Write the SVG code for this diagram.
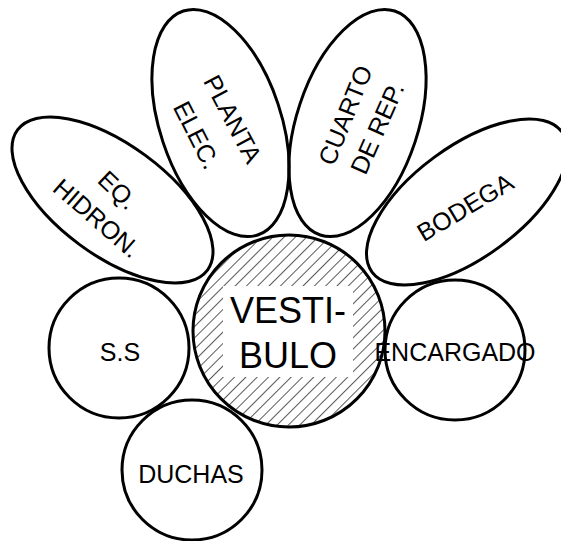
<svg xmlns="http://www.w3.org/2000/svg" width="561" height="541" viewBox="0 0 561 541">
  <defs>
    <pattern id="hatch" patternUnits="userSpaceOnUse" width="8" height="8" patternTransform="rotate(45)">
      <line x1="0" y1="0" x2="0" y2="8" stroke="#000" stroke-width="1.3"/>
    </pattern>
    <clipPath id="vclip"><circle cx="289" cy="331" r="96"/></clipPath>
  </defs>
  <style>
    .shape { fill: none; stroke: #000; stroke-width: 3; }
    .lbl { font-family: "Liberation Sans", Arial, sans-serif; font-size: 25px; fill: #000; text-anchor: middle; }
    .big { font-size: 36px; }
  </style>
  <rect width="561" height="541" fill="#fff"/>
  <g id="connectors"></g>
  <g id="vestibulo">
    <circle cx="289" cy="331" r="96" fill="url(#hatch)"/>
    <rect x="223" y="286" width="130" height="91" fill="#fff" clip-path="url(#vclip)"/>
    <circle cx="289" cy="331" r="96" class="shape"/>
    <text class="lbl big" x="288" y="323">VESTI-</text>
    <text class="lbl big" x="288" y="368">BULO</text>
  </g>
  <g id="eq-hidron">
    <ellipse cx="112.5" cy="200" rx="118" ry="55.4" transform="rotate(36.4 112.5 200)" class="shape"/>
    <text class="lbl" transform="translate(118 190) rotate(44)" y="9">EQ.</text>
    <text class="lbl" transform="translate(97 218) rotate(41)" y="9">HIDRON.</text>
  </g>
  <g id="planta-elec">
    <ellipse cx="220.5" cy="123" rx="118" ry="60.6" transform="rotate(71.6 220.5 123)" class="shape"/>
    <text class="lbl" transform="translate(233 119) rotate(62)" y="9">PLANTA</text>
    <text class="lbl" transform="translate(197 135) rotate(63)" y="9">ELEC.</text>
  </g>
  <g id="cuarto-rep">
    <ellipse cx="357.5" cy="123" rx="118" ry="60.6" transform="rotate(-71.6 357.5 123)" class="shape"/>
    <text class="lbl" transform="translate(345 115) rotate(-68)" y="9">CUARTO</text>
    <text class="lbl" transform="translate(377 128) rotate(-66)" y="9">DE REP.</text>
  </g>
  <g id="bodega">
    <ellipse cx="467" cy="202" rx="118" ry="55.4" transform="rotate(-36.4 467 202)" class="shape"/>
    <text class="lbl" transform="translate(465 207) rotate(-31)" y="9">BODEGA</text>
  </g>
  <g id="ss">
    <circle cx="119" cy="348" r="70" class="shape"/>
    <text class="lbl" x="120" y="361">S.S</text>
  </g>
  <g id="encargado">
    <circle cx="455" cy="350" r="70" class="shape"/>
    <text class="lbl" x="455" y="361">ENCARGADO</text>
  </g>
  <g id="duchas">
    <circle cx="192" cy="470" r="70" class="shape"/>
    <text class="lbl" x="191" y="483">DUCHAS</text>
  </g>
</svg>
